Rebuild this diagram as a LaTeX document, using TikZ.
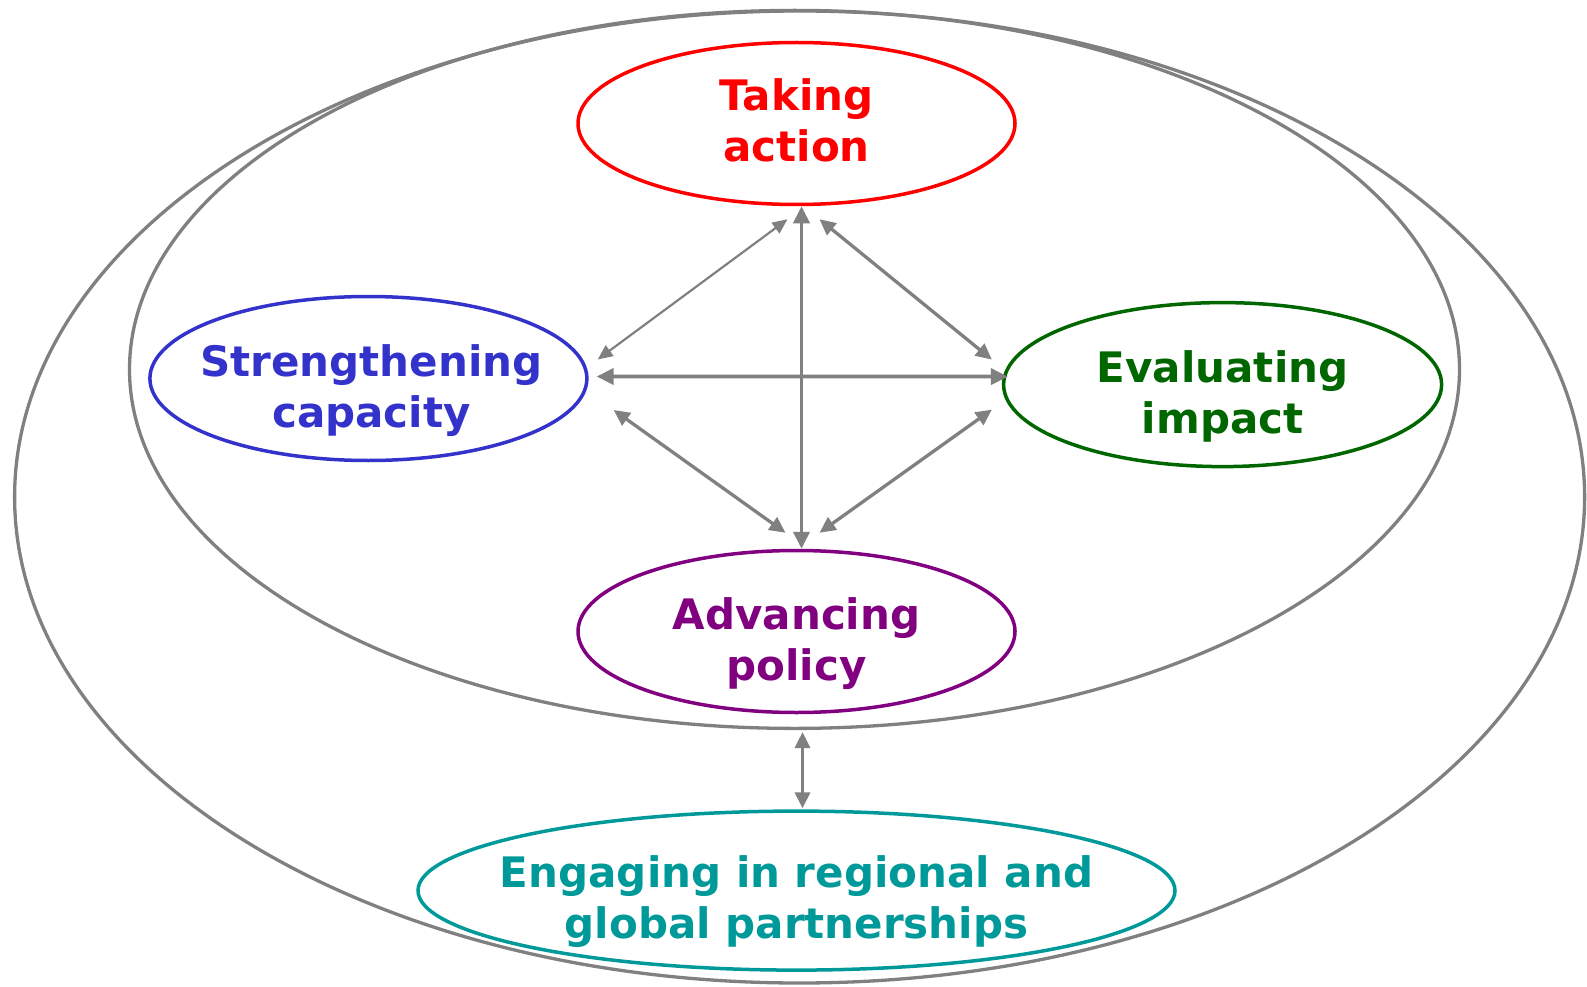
\documentclass[tikz,border=0pt]{standalone}
\usepackage{fontspec}
\setmainfont{DejaVu Sans}
\usetikzlibrary{shapes.geometric,arrows.meta,calc}
\definecolor{cred}{RGB}{255,0,0}
\definecolor{cblue}{RGB}{51,51,204}
\definecolor{cgreen}{RGB}{0,102,0}
\definecolor{cpurple}{RGB}{128,0,128}
\definecolor{cteal}{RGB}{0,153,153}
\definecolor{cgray}{RGB}{128,128,128}
\begin{document}
\begin{tikzpicture}[x=1pt,y=-1pt,
  ring/.style={ellipse, draw=cgray, line width=3.3pt, inner sep=0pt},
  oval/.style={ellipse, line width=3.5pt, inner sep=0pt},
  txt/.style={align=center, inner sep=0pt,
    font=\fontsize{42}{51}\selectfont\bfseries},
  link/.style={draw=cgray, line width=3.8pt,
    {Triangle[length=17pt,width=16pt]}-{Triangle[length=17pt,width=16pt]}},
  diag/.style={draw=cgray, line width=3.3pt,
    {Triangle[length=16pt,width=15pt]}-{Triangle[length=16pt,width=15pt]}},
  fine/.style={draw=cgray, line width=2.2pt,
    {Triangle[length=15pt,width=13pt]}-{Triangle[length=15pt,width=13pt]}}
]
\useasboundingbox (0,0) rectangle (1587,987);
\node[ring, minimum width=1570, minimum height=972] (outer) at (799.6,497) {};
\node[ring, minimum width=1330, minimum height=718] (inner) at (794.5,369.4) {};
\node[oval, draw=cred, minimum width=437, minimum height=162] (act) at (796.5,123.5) {};
\node[oval, draw=cblue, minimum width=437, minimum height=164] (cap) at (368.4,378.5) {};
\node[oval, draw=cgreen, minimum width=438, minimum height=164] (eval) at (1222.6,384.6) {};
\node[oval, draw=cpurple, minimum width=437, minimum height=162] (pol) at (796.5,631.5) {};
\node[oval, draw=cteal, minimum width=757, minimum height=159] (eng) at (796.5,890.6) {};
\node[txt, text=cred] (actT) at ($(act.center)+(0,-3)$) {Taking\\action};
\node[txt, text=cblue] (capT) at ($(cap.center)+(3,12)$) {Strengthening\\capacity};
\node[txt, text=cgreen] (evalT) at ($(eval.center)+(0,12)$) {Evaluating\\impact};
\node[txt, text=cpurple] (polT) at ($(pol.center)+(0,12)$) {Advancing\\policy};
\node[txt, text=cteal] (engT) at ($(eng.center)+(0,11)$) {Engaging in regional and\\global partnerships};
\draw[link] ($(act.south)+(5,0)$) -- ($(pol.north)+(5,0)$);
\draw[link] ($(cap.east)+(8,-2)$) -- ($(eval.west)+(6,-8)$);
\draw[fine] ($(act.south)+(-9,13)$) -- ($(cap.east)+(9,-19)$);
\draw[diag] ($(act.south)+(23,13)$) -- ($(eval.west)+(-10,-25)$);
\draw[diag] ($(cap.east)+(25,31.5)$) -- ($(pol.north)+(-11,-16)$);
\draw[diag] ($(eval.west)+(-10,25)$) -- ($(pol.north)+(23,-16)$);
\draw[diag] ($(inner.south)+(8,2)$) -- ($(eng.north)+(6,-1)$);
\end{tikzpicture}
\end{document}
